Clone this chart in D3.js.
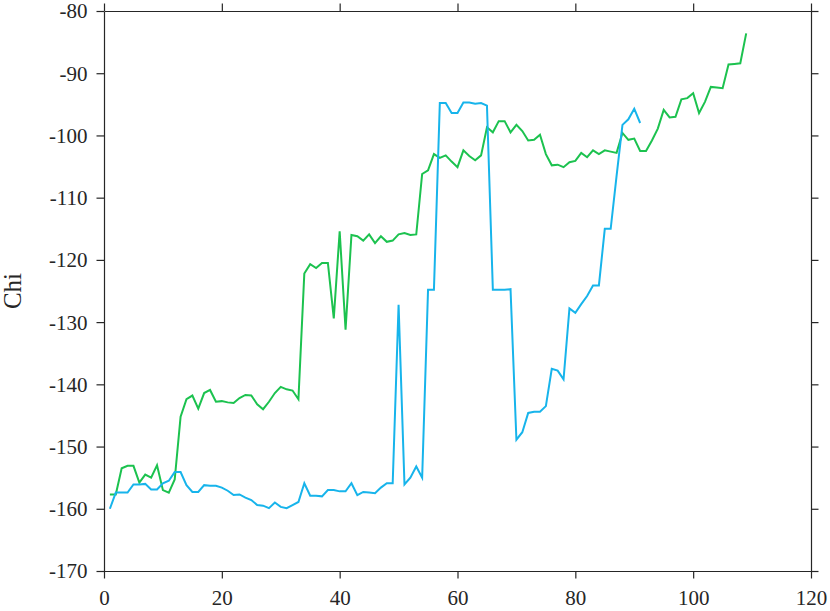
<!DOCTYPE html>
<html>
<head>
<meta charset="utf-8">
<script src="https://cdn.jsdelivr.net/npm/d3@7"></script>
<style>
  body { margin: 0; background: #fff; }
  svg text { font-family: "Liberation Serif", "DejaVu Serif", serif; fill: #262626; }
  .axis path, .axis line { stroke: #262626; stroke-width: 1.2; }
</style>
</head>
<body>
<div id="chart"></div>
<script>
// x index of each sample is 1..n
var greenChi = [
  -157.7, -157.7, -153.5, -153.1, -153.1, -155.8, -154.5, -155.0, -153.0, -157.0,
  -157.4, -155.3, -145.2, -142.4, -141.8, -143.9, -141.4, -140.9, -142.8, -142.7,
  -142.9, -143.0, -142.2, -141.7, -141.8, -143.2, -144.0, -142.8, -141.4, -140.4,
  -140.8, -141.0, -142.4, -122.2, -120.7, -121.3, -120.5, -120.5, -129.4, -115.4,
  -131.2, -116.0, -116.2, -116.9, -115.9, -117.3, -116.2, -117.1, -116.9, -115.9,
  -115.7, -116.0, -115.9, -106.2, -105.6, -103.0, -103.6, -103.2, -104.2, -105.1,
  -102.4, -103.3, -104.0, -103.2, -98.7, -99.5, -97.7, -97.7, -99.5, -98.3,
  -99.3, -100.8, -100.7, -99.9, -103.0, -104.8, -104.7, -105.1, -104.3, -104.1,
  -102.8, -103.5, -102.4, -103.0, -102.4, -102.6, -102.8, -99.6, -100.7, -100.5,
  -102.5, -102.5, -100.8, -98.9, -95.9, -97.1, -97.0, -94.2, -94.0, -93.2,
  -96.4, -94.6, -92.2, -92.3, -92.4, -88.6, -88.5, -88.4, -83.6
];

var blueChi = [
  -160.0, -157.4, -157.4, -157.4, -156.1, -156.1, -156.0, -156.9, -156.9, -155.9,
  -155.5, -154.1, -154.1, -156.2, -157.3, -157.3, -156.2, -156.3, -156.3, -156.6,
  -157.1, -157.8, -157.7, -158.2, -158.6, -159.4, -159.5, -159.9, -159.0, -159.7,
  -159.9, -159.4, -158.9, -155.9, -157.9, -157.9, -158.0, -157.0, -157.0, -157.2,
  -157.2, -155.9, -157.8, -157.3, -157.4, -157.5, -156.6, -155.9, -155.9, -127.2,
  -156.1, -155.0, -153.2, -155.0, -124.8, -124.8, -94.8, -94.8, -96.4, -96.4,
  -94.7, -94.7, -94.9, -94.8, -95.2, -124.8, -124.8, -124.8, -124.7, -148.9,
  -147.7, -144.6, -144.4, -144.4, -143.5, -137.5, -137.8, -139.2, -127.8, -128.5,
  -127.1, -125.8, -124.1, -124.1, -115.0, -115.0, -106.5, -98.3, -97.4, -95.7,
  -98.0
];

var xTicks = [0, 20, 40, 60, 80, 100, 120];
var yTicks = [-170, -160, -150, -140, -130, -120, -110, -100, -90, -80];
var yLabel = "Chi";

var margin = { left: 104, right: 19, top: 11, bottom: 40 };
var W = 830, H = 611;
var width = W - margin.left - margin.right;
var height = H - margin.top - margin.bottom;
var serif = "Liberation Serif, DejaVu Serif, serif";

var svg = d3.select("#chart").append("svg")
    .attr("width", W)
    .attr("height", H)
  .append("g")
    .attr("transform", "translate(" + margin.left + "," + margin.top + ")");

var x = d3.scaleLinear().domain([0, 120]).range([0, width]);
var y = d3.scaleLinear().domain([-170, -80]).range([height, 0]);

// plain hyphen for negatives, like the original
var fmt = function (d) { return String(d); };

// axes on all four sides, ticks pointing out
var gx = svg.append("g")
    .attr("class", "axis")
    .attr("transform", "translate(0," + height + ")")
    .call(d3.axisBottom(x).tickValues(xTicks).tickFormat(fmt).tickSize(7.5).tickSizeOuter(0).tickPadding(10));
gx.attr("font-family", serif);
gx.selectAll("text")
    .style("font-family", serif)
    .style("font-size", "21px")
    .attr("dy", "0.8em");

svg.append("g")
    .attr("class", "axis")
    .call(d3.axisTop(x).tickValues(xTicks).tickSize(7.5).tickSizeOuter(0).tickFormat(""));

var gy = svg.append("g")
    .attr("class", "axis")
    .call(d3.axisLeft(y).tickValues(yTicks).tickFormat(fmt).tickSize(7.5).tickSizeOuter(0).tickPadding(9));
gy.attr("font-family", serif);
gy.selectAll("text")
    .style("font-family", serif)
    .style("font-size", "21px")
    .attr("dy", "0.33em");

svg.append("g")
    .attr("class", "axis")
    .attr("transform", "translate(" + width + ",0)")
    .call(d3.axisRight(y).tickValues(yTicks).tickSize(7.5).tickSizeOuter(0).tickFormat(""));

svg.append("text")
    .attr("transform", "translate(" + (21 - margin.left) + "," + (height / 2) + ") rotate(-90)")
    .attr("text-anchor", "middle")
    .style("font-family", serif)
    .style("font-size", "25px")
    .text(yLabel);

var line = d3.line()
    .x(function (d, i) { return x(i + 1); })
    .y(function (d) { return y(d); });

svg.append("path")
    .datum(greenChi)
    .attr("d", line)
    .style("fill", "none")
    .style("stroke", "#1cc24f")
    .style("stroke-width", 2);

svg.append("path")
    .datum(blueChi)
    .attr("d", line)
    .style("fill", "none")
    .style("stroke", "#17b4eb")
    .style("stroke-width", 2);
</script>
</body>
</html>
